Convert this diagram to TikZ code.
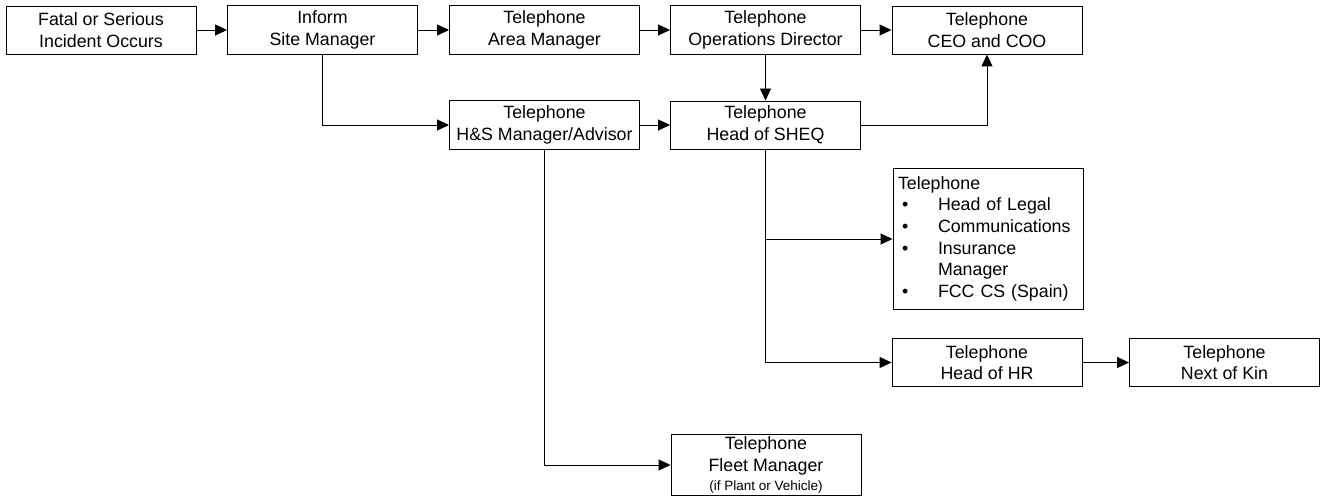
\documentclass[tikz,border=0pt]{standalone}
\usepackage{fontspec}
\setmainfont{Liberation Sans}
\usetikzlibrary{arrows.meta}

\begin{document}
\begin{tikzpicture}[x=1pt,y=-1pt,line width=0.9pt,
    box/.style={draw, minimum width=190pt, minimum height=48pt, inner sep=5pt,
        align=center, font=\fontsize{17.8}{21.7}\selectfont},
    arr/.style={-{Triangle[length=12pt,width=11pt]}}]
\useasboundingbox (0,0) rectangle (1323,497);

% Top row
\node[box] (incident) at (101,30)   {Fatal or Serious\\Incident Occurs};
\node[box] (site)     at (322.5,30) {Inform\\Site Manager};
\node[box] (area)     at (544.5,30) {Telephone\\Area Manager};
\node[box] (ops)      at (765.5,30) {Telephone\\Operations Director};
\node[box] (ceo)      at (987,30)   {Telephone\\CEO and COO};

% Second row
\node[box] (hs)   at (544.5,125) {Telephone\\H\&S Manager/Advisor};
\node[box] (sheq) at (765.5,125) {Telephone\\Head of SHEQ};

% List box
\node[box, minimum height=136pt, text width=180pt, align=left] (legal) at (988,239) {%
  \begin{tabular}{@{}p{40pt}@{}l@{}}
  \multicolumn{2}{@{}l@{}}{Telephone}\\
  \hspace*{4pt}\textbullet & Head of Legal\\
  \hspace*{4pt}\textbullet & Communications\\
  \hspace*{4pt}\textbullet & Insurance\\
                           & Manager\\
  \hspace*{4pt}\textbullet & FCC CS (Spain)
  \end{tabular}};

% Lower boxes
\node[box] (hr)    at (987,362.5)    {Telephone\\Head of HR};
\node[box] (kin)   at (1224.5,362.5) {Telephone\\Next of Kin};
\node[box, minimum height=61pt, inner ysep=1pt] (fleet) at (766,465)
  {Telephone\\Fleet Manager\\[-3pt]{\fontsize{13.5}{15}\selectfont (if Plant or Vehicle)}};

% Connectors
\foreach \a/\b in {incident/site, site/area, area/ops, ops/ceo, hs/sheq, ops/sheq, hr/kin}
  \draw[arr] (\a) -- (\b);
\draw[arr] (site.south) |- (hs.west);
\draw[arr] (sheq.east) -| (ceo.south);
\draw[arr] (sheq.south) |- (legal.west);
\draw[arr] (sheq.south) |- (hr.west);
\draw[arr] (hs.south) |- (fleet.west);

\end{tikzpicture}
\end{document}
